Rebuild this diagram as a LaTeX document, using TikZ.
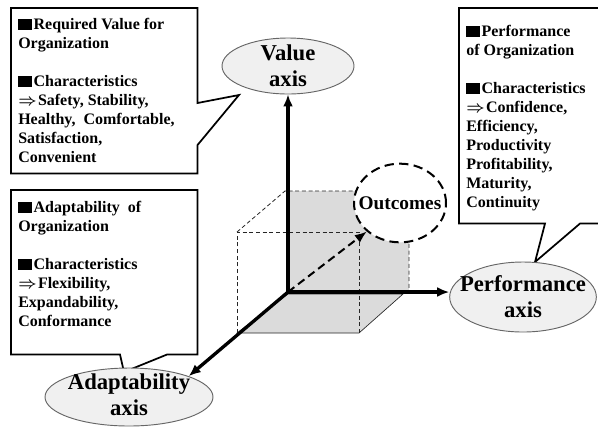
\documentclass[tikz,border=0pt]{standalone}
\usepackage{fontspec}
\setmainfont{Liberation Serif}
\usetikzlibrary{arrows.meta,shapes.geometric,calc}

\newcommand{\blacksq}{\rule{10.5pt}{8pt}\kern1pt}
\newcommand{\impl}{{\boldmath$\Rightarrow$}\kern1pt}

\tikzset{
  axisline/.style={line width=2.5pt, -{Latex[length=9pt,width=7.5pt]}},
  axisnode/.style={ellipse, draw=black!60, line width=0.7pt, fill=black!6, inner sep=0pt},
  axislabel/.style={inner sep=0pt, align=center, font=\fontsize{17}{19.5}\selectfont\bfseries},
  cubefill/.style={fill=black!14},
  cubeedge/.style={line width=0.6pt, dash pattern=on 3pt off 2pt, black!85},
  boxframe/.style={rectangle, anchor=north west, inner sep=0pt},
  boxtext/.style={anchor=north west, inner sep=0pt, align=left,
    font=\fontsize{12}{14.25}\selectfont\bfseries},
  calloutline/.style={line width=1.3pt, fill=white, line join=miter},
}

\begin{document}
\begin{tikzpicture}[x=0.75pt, y=-0.75pt]
  \useasboundingbox (0,0) rectangle (598,426);

  % Cube behind the axes
  \fill[cubefill] (288,191) rectangle (409,292);
  \filldraw[cubefill, draw=black!85, line width=0.5pt] (288,294) -- (403,294) -- (359,333) -- (237,333) -- cycle;
  \draw[cubeedge] (237,333) -- (237,232) -- (359,232) -- (359,333);
  \draw[cubeedge] (237,232) -- (285,191) -- (409,191) -- (409,292);

  % Outcomes
  \node[ellipse, draw, fill=white, line width=1.5pt, dash pattern=on 7pt off 4pt,
    minimum width=69pt, minimum height=59pt, inner sep=0pt] (outcome) at (400,203) {};
  \node[inner sep=0pt, font=\fontsize{14.5}{16}\selectfont\bfseries] (outtext) at (outcome) {Outcomes};

  \coordinate (origin) at (288,292);

  % Callout boxes
  \node[boxframe, minimum width=139.5pt, minimum height=123.75pt] (valbox) at (11,8) {};
  \node[boxframe, minimum width=108pt, minimum height=161.25pt] (perfbox) at (459,8) {};
  \node[boxframe, minimum width=139.5pt, minimum height=123pt] (adaptbox) at (11,190) {};
  \coordinate (valtip) at (239,95);
  \coordinate (perftip) at (535,262);
  \coordinate (adapttip) at (124,372);

  \draw[calloutline] (valbox.north west) -- (valbox.north east) -- ($(valbox.north east)+(0,95)$)
    -- (valtip) -- ($(valbox.north east)+(0,137)$) -- (valbox.south east) -- (valbox.south west) -- cycle;
  \draw[calloutline] (perfbox.north west) -- (perfbox.north east) -- (perfbox.south east)
    -- ($(perfbox.south west)+(121,0)$) -- (perftip) -- ($(perfbox.south west)+(86,0)$) -- (perfbox.south west) -- cycle;
  \draw[calloutline] (adaptbox.north west) -- (adaptbox.north east) -- (adaptbox.south east)
    -- ($(adaptbox.south west)+(156,0)$) -- (adapttip) -- ($(adaptbox.south west)+(109,0)$) -- (adaptbox.south west) -- cycle;

  \node[boxtext] (valtext) at (18,18) {\blacksq Required\ Value\ for\\
    Organization\\[14.25pt]
    \blacksq Characteristics\\
    \impl Safety, Stability,\\
    Healthy,\ \ Comfortable,\\
    Satisfaction,\\
    Convenient};
  \node[boxtext] (perftext) at (466,25) {\blacksq Performance\\
    of Organization\\[14.25pt]
    \blacksq Characteristics\\
    \impl Confidence,\\
    Efficiency,\\
    Productivity\\
    Profitability,\\
    Maturity,\\
    Continuity};
  \node[boxtext] (adapttext) at (18,201) {\blacksq Adaptability\ \ of\\
    Organization\\[14.25pt]
    \blacksq Characteristics\\
    \impl Flexibility,\\
    Expandability,\\
    Conformance};

  % Axes
  \node[axisnode, minimum width=99pt, minimum height=42pt] (valaxis) at (288,66) {};
  \node[axisnode, minimum width=110pt, minimum height=52.5pt] (perfaxis) at (523,297) {};
  \node[axisnode, minimum width=126pt, minimum height=43.5pt] (adaptaxis) at (129,397) {};
  \node[axislabel] (valtext2) at (valaxis) {Value\\axis};
  \node[axislabel] (perftext2) at (perfaxis) {Performance\\axis};
  \node[axislabel] (adapttext2) at ([yshift=2pt]adaptaxis.center) {Adaptability\\axis};

  \draw[axisline] (origin) -- (valaxis);
  \draw[axisline] (origin) -- (origin -| perfaxis.west);
  \draw[axisline] (origin) -- (adaptaxis.north east);
  \draw[line width=1.5pt, dash pattern=on 6pt off 3.5pt, -{Latex[length=9pt,width=7pt]}]
    (origin) -- (outcome.south west);
\end{tikzpicture}
\end{document}
